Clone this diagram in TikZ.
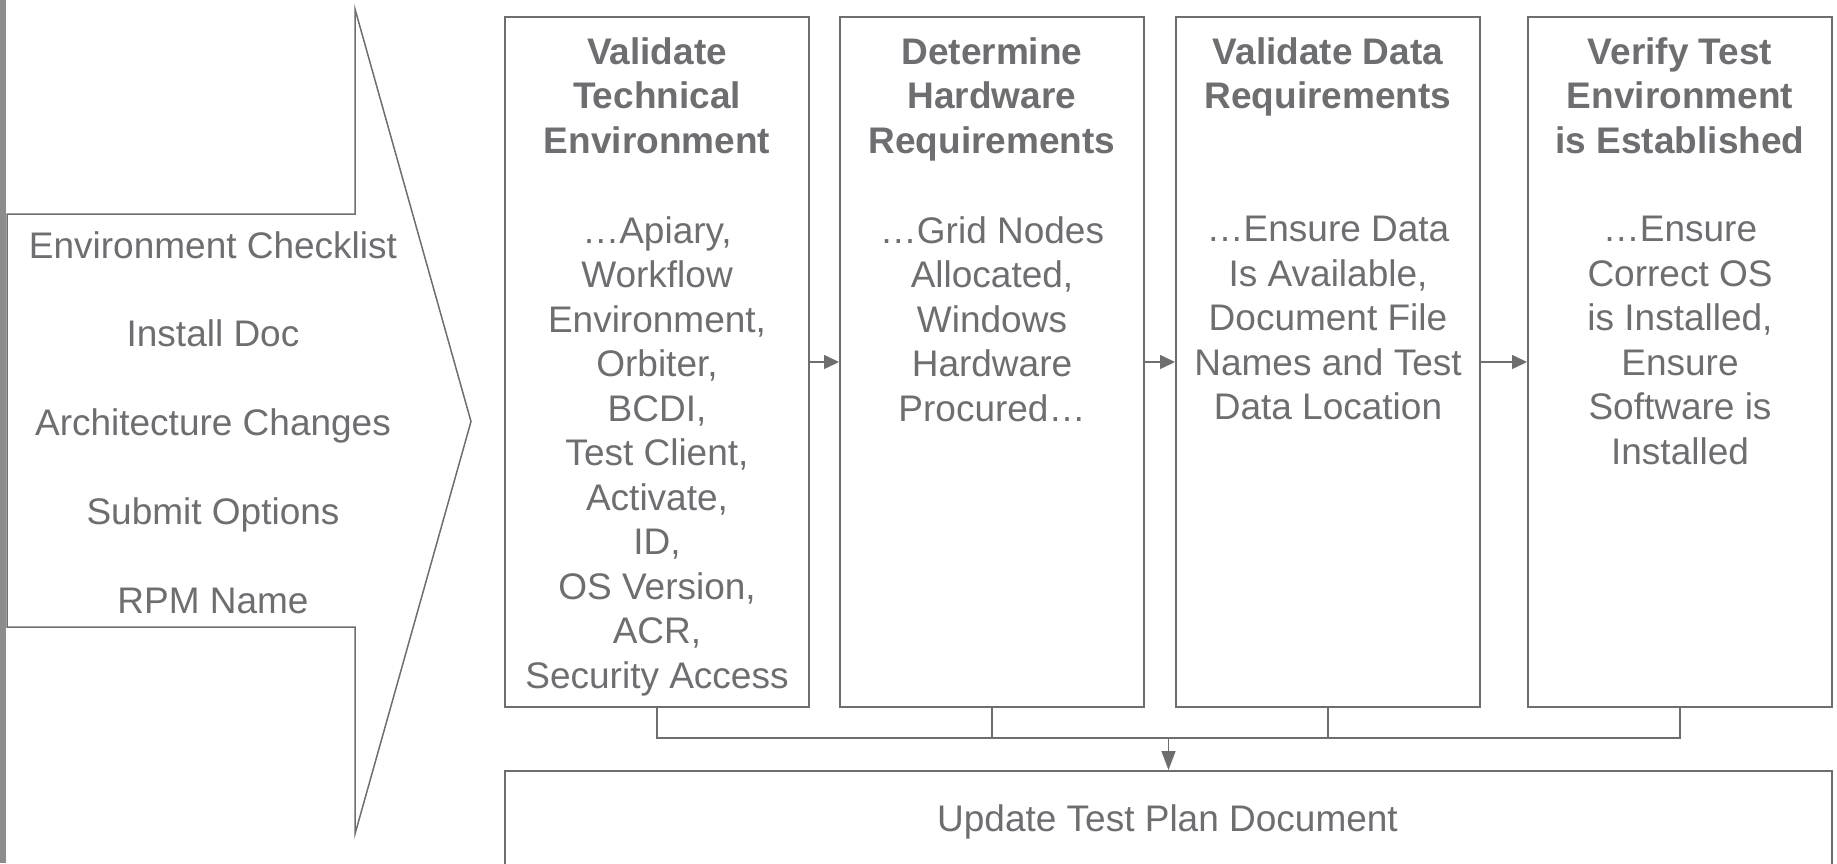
\documentclass[tikz,border=0pt]{standalone}
\usepackage{fontspec}
\setmainfont{Liberation Sans}
\usetikzlibrary{arrows.meta}
\definecolor{txt}{RGB}{109,110,113}
\definecolor{ln}{RGB}{110,110,112}
\definecolor{barc}{RGB}{140,140,140}
\tikzset{
  box/.style={draw=ln, line width=2pt, fill=white, inner sep=0pt, anchor=north west, minimum width=304pt, minimum height=690pt},
  ttl/.style={text=txt, font=\fontsize{37}{44.5}\selectfont\bfseries, align=center, anchor=north, inner sep=0pt},
  bdy/.style={text=txt, font=\fontsize{37}{44.5}\selectfont, align=center, anchor=north, inner sep=0pt},
  lbl/.style={text=txt, font=\fontsize{37}{44.5}\selectfont, anchor=base, inner sep=0pt},
  conn/.style={draw=ln, line width=1.5pt},
  arr/.style={conn, -{Triangle[length=15pt,width=14pt]}},
  darr/.style={conn, -{Triangle[length=19pt,width=14pt]}}
}
\begin{document}
\begin{tikzpicture}[x=1pt,y=-1pt]
\useasboundingbox (0,0) rectangle (1837,863);
\clip (0,0) rectangle (1837,863);
\fill[barc] (0,0) rectangle (6,863);
% big arrow
\draw[ln, line width=1.5pt, fill=white] (7,214) -- (355,214) -- (355,9) -- (471,421.5) -- (355,834) -- (355,627) -- (7,627) -- cycle;
\node[lbl] (l1) at (213,258) {Environment Checklist};
\node[lbl] (l2) at (213,346) {Install Doc};
\node[lbl] (l3) at (213,435) {Architecture Changes};
\node[lbl] (l4) at (213,524) {Submit Options};
\node[lbl] (l5) at (213,613) {RPM Name};
% boxes
\node[box] (b1) at (504,16) {};
\node[box] (b2) at (839,16) {};
\node[box] (b3) at (1175,16) {};
\node[box] (b4) at (1527,16) {};
\node[ttl] (t1) at (b1.north |- 0,37) {Validate\\Technical\\Environment};
\node[ttl] (t2) at (b2.north |- 0,37) {Determine\\Hardware\\Requirements};
\node[ttl] (t3) at (b3.north |- 0,37) {Validate Data\\Requirements};
\node[ttl] (t4) at (b4.north |- 0,37) {Verify Test\\Environment\\is Established};
\node[bdy] (d1) at (b1.north |- 0,216) {…Apiary,\\Workflow\\Environment,\\Orbiter,\\BCDI,\\Test Client,\\Activate,\\ID,\\OS Version,\\ACR,\\Security Access};
\node[bdy] (d2) at (b2.north |- 0,216) {…Grid Nodes\\Allocated,\\Windows\\Hardware\\Procured…};
\node[bdy] (d3) at (b3.north |- 0,216) {…Ensure Data\\Is Available,\\Document File\\Names and Test\\Data Location};
\node[bdy] (d4) at (b4.north |- 0,216) {…Ensure\\Correct OS\\is Installed,\\Ensure\\Software is\\Installed};
% horizontal arrows
\draw[arr] (b1.east |- 0,362) -- (b2.west |- 0,362);
\draw[arr] (b2.east |- 0,362) -- (b3.west |- 0,362);
\draw[arr] (b3.east |- 0,362) -- (b4.west |- 0,362);
% bottom box
\node[box, minimum width=1327pt, minimum height=140pt] (bot) at (504,770) {};
\node[lbl] (bt) at (1167.5,831) {Update Test Plan Document};
% bus
\coordinate (busL) at (b1.south |- 0,738);
\coordinate (busR) at (b4.south |- 0,738);
\draw[conn] (b1.south) -- (busL) -- (busR) -- (b4.south);
\draw[conn] (b2.south) -- (b2.south |- busL);
\draw[conn] (b3.south) -- (b3.south |- busL);
\draw[darr] (bot.north |- busL) -- (bot.north);
\end{tikzpicture}
\end{document}
